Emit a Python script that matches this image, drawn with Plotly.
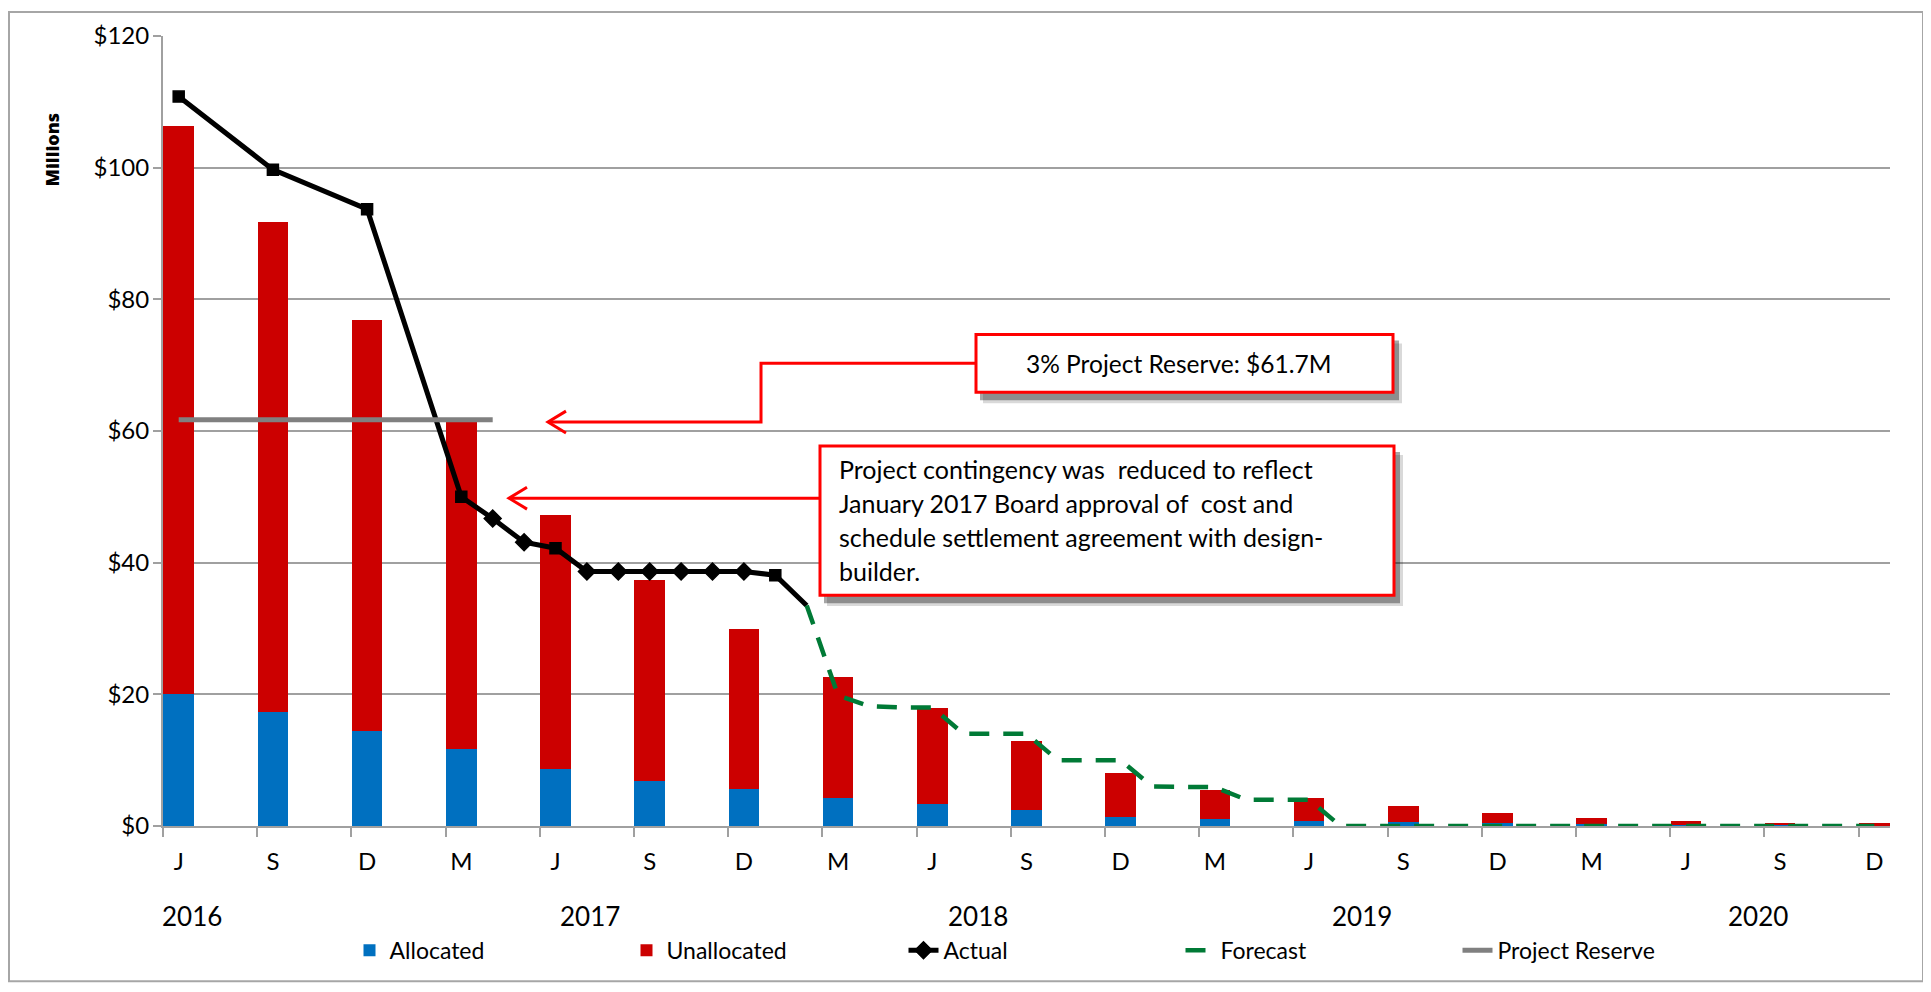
import plotly.graph_objects as go

# ---------------- data ----------------
quarter_labels = ["J", "S", "D", "M", "J", "S", "D", "M", "J", "S", "D", "M",
                  "J", "S", "D", "M", "J", "S", "D"]
# month index: 0 = June 2016 ... 54 = December 2020
bar_months = [0, 3, 6, 9, 12, 15, 18, 21, 24, 27, 30, 33, 36, 39, 42, 45, 48, 51, 54]
allocated = [20.1, 17.3, 14.5, 11.7, 8.7, 6.9, 5.6, 4.3, 3.3, 2.4, 1.4, 1.0, 0.8,
             0.6, 0.4, 0.25, 0.15, 0.1, 0.05]
unallocated = [86.3, 74.4, 62.3, 50.3, 38.6, 30.5, 24.4, 18.4, 14.6, 10.5, 6.6, 4.5,
               3.5, 2.45, 1.5, 1.0, 0.55, 0.4, 0.45]

actual_months = [0, 3, 6, 9, 10, 11, 12, 13, 14, 15, 16, 17, 18, 19, 20]
actual_values = [110.8, 99.7, 93.7, 50.0, 46.7, 43.1, 42.2, 38.65, 38.65, 38.65,
                 38.65, 38.65, 38.65, 38.1, 33.5]

forecast_months = [20, 21, 22, 23, 24, 25, 26, 27, 28, 29, 30, 31, 32, 33, 34, 35, 36,
                   37, 38, 39, 40, 41, 42, 43, 44, 45, 46, 47, 48, 49, 50, 51, 52, 53, 54]
forecast_values = [33.5, 19.8, 18.2, 18.0, 18.0, 14.0, 14.0, 14.0, 10.0, 10.0, 10.0,
                   6.0, 6.0, 5.9, 4.0, 4.0, 4.0,
                   0, 0, 0, 0, 0, 0, 0, 0, 0, 0, 0, 0, 0, 0, 0, 0, 0, 0]

reserve_months = [0, 10]
reserve_values = [61.7, 61.7]

year_labels = ["2016", "2017", "2018", "2019", "2020"]
year_label_x = [0.42, 13.1, 25.44, 37.7, 50.3]

annotation_reserve = "3% Project Reserve: $61.7M"
annotation_lines = [
    "Project contingency was  reduced to reflect",
    "January 2017 Board approval of  cost and",
    "schedule settlement agreement with design-",
    "builder.",
]

# ---------------- styles ----------------
FONT = "Lato, 'Open Sans', sans-serif"
BLUE = "#0070C0"
RED = "#CC0000"
GREEN = "#007A36"
GRID = "#A0A0A0"

O = 8                      # page body margin
W, H = 1920, 976           # figure size
L, R, T, B = 163, 1890, 33, 827   # plot area in screen pixels


def px(x):
    return (x - L) / (R - L)


def py(y):
    return (B - y) / (B - T)


fig = go.Figure()

fig.add_trace(go.Bar(x=bar_months, y=allocated, name="Allocated",
                     marker=dict(color=BLUE, line=dict(width=0)), width=0.97))
fig.add_trace(go.Bar(x=bar_months, y=unallocated, name="Unallocated",
                     marker=dict(color=RED, line=dict(width=0)), width=0.97))

symbols = []
sizes = []
for m in actual_months:
    if m in (0, 3, 6, 9, 12, 19):
        symbols.append("square")
        sizes.append(11)
    elif m == 20:
        symbols.append("diamond")
        sizes.append(0)
    else:
        symbols.append("diamond")
        sizes.append(13)

fig.add_trace(go.Scatter(x=actual_months, y=actual_values, mode="lines+markers",
                         name="Actual", showlegend=False,
                         line=dict(color="#000000", width=5),
                         marker=dict(symbol=symbols, size=sizes, color="#000000",
                                     opacity=1,
                                     line=dict(width=1.5, color="#000000"))))
fig.add_trace(go.Scatter(x=[None], y=[None], mode="lines+markers", name="Actual",
                         line=dict(color="#000000", width=5),
                         marker=dict(symbol="diamond", size=13, color="#000000",
                                     line=dict(width=1.5, color="#000000"))))
fig.add_trace(go.Scatter(x=forecast_months, y=forecast_values, mode="lines",
                         name="Forecast",
                         line=dict(color=GREEN, width=4.5, dash="20px,14px")))
fig.add_trace(go.Scatter(x=reserve_months, y=reserve_values, mode="lines",
                         name="Project Reserve",
                         line=dict(color="#808080", width=5)))

shapes = []
# outer chart border
shapes.append(dict(type="rect", xref="paper", yref="paper",
                   x0=px(9), x1=px(1923), y0=py(983), y1=py(9),
                   line=dict(color="#A6A6A6", width=2), fillcolor="rgba(0,0,0,0)",
                   layer="below"))


def box(x0, y0, x1, y1):
    shapes.append(dict(type="rect", xref="paper", yref="paper",
                       x0=px(x0 + 7), x1=px(x1 + 9), y0=py(y1 + 11), y1=py(y0 + 9),
                       line=dict(width=0), fillcolor="rgba(0,0,0,0.15)", layer="above"))
    shapes.append(dict(type="rect", xref="paper", yref="paper",
                       x0=px(x0 + 4), x1=px(x1 + 6), y0=py(y1 + 8), y1=py(y0 + 6),
                       line=dict(width=0), fillcolor="rgba(0,0,0,0.35)", layer="above"))
    shapes.append(dict(type="rect", xref="paper", yref="paper",
                       x0=px(x0), x1=px(x1), y0=py(y1), y1=py(y0),
                       line=dict(color="#FF0000", width=3), fillcolor="white",
                       layer="above"))


def path(points):
    d = "M " + " L ".join(f"{px(a):.5f},{py(b):.5f}" for a, b in points)
    shapes.append(dict(type="path", xref="paper", yref="paper", path=d,
                       line=dict(color="#FF0000", width=3), layer="above"))


# arrows
path([(976, 362), (761, 362), (761, 421), (549, 421)])
path([(566, 410), (548, 421), (566, 432)])
path([(820, 497.5), (510, 497.5)])
path([(527, 486.5), (509, 497.5), (527, 508.5)])

box(976, 333, 1393, 391)
box(820, 445, 1394, 595)

annotations = []
annotations.append(dict(xref="paper", yref="paper", x=px(1178), y=py(362),
                        text=annotation_reserve, showarrow=False,
                        xanchor="center", yanchor="middle",
                        font=dict(family=FONT, size=24.5, color="black")))
for i, line in enumerate(annotation_lines):
    annotations.append(dict(xref="paper", yref="paper", x=px(837),
                            y=py(468.5 + 34 * i), text=line, showarrow=False,
                            xanchor="left", yanchor="middle",
                            font=dict(family=FONT, size=25, color="black")))
for lab, xv in zip(year_labels, year_label_x):
    annotations.append(dict(xref="x", yref="paper", x=xv, y=py(917), text=lab,
                            showarrow=False, xanchor="center", yanchor="middle",
                            font=dict(family=FONT, size=26, color="black")))
annotations.append(dict(xref="paper", yref="paper", x=px(52), y=py(147),
                        text="Millions", textangle=-90, showarrow=False,
                        xanchor="center", yanchor="middle",
                        font=dict(family="'Open Sans', Lato, sans-serif", size=18,
                                  color="black", weight=800)))

fig.update_layout(
    width=W, height=H,
    margin=dict(l=L - O, r=W - (R - O), t=T - O, b=H - (B - O), pad=0),
    paper_bgcolor="white", plot_bgcolor="white",
    barmode="stack", bargap=0,
    font=dict(family=FONT, size=22, color="black"),
    shapes=shapes, annotations=annotations,
    legend=dict(orientation="h", x=px(1042), xanchor="center", y=py(952),
                yanchor="middle", font=dict(family=FONT, size=23, color="black"),
                entrywidth=232, entrywidthmode="pixels", traceorder="normal",
                bgcolor="rgba(0,0,0,0)"),
    xaxis=dict(range=[-0.5, 54.5], tickmode="array", tickvals=bar_months,
               ticktext=quarter_labels, ticks="", showgrid=False, zeroline=False,
               showline=True, linecolor=GRID, linewidth=2,
               tickfont=dict(family=FONT, size=24, color="black"),
               ticklabelstandoff=13,
               minor=dict(tickmode="array",
                          tickvals=[m - 0.5 for m in bar_months],
                          ticks="outside", ticklen=9, tickwidth=1.5,
                          tickcolor=GRID, showgrid=False)),
    yaxis=dict(range=[0, 120], tickmode="linear", tick0=0, dtick=20,
               tickprefix="$", showgrid=True, gridcolor=GRID, gridwidth=1.5,
               zeroline=False, showline=True, linecolor=GRID, linewidth=2,
               ticks="outside", ticklen=8, tickwidth=1.5, tickcolor=GRID,
               tickfont=dict(family=FONT, size=24, color="black"),
               ticklabelstandoff=-1),
)

fig.write_html("out.html")
